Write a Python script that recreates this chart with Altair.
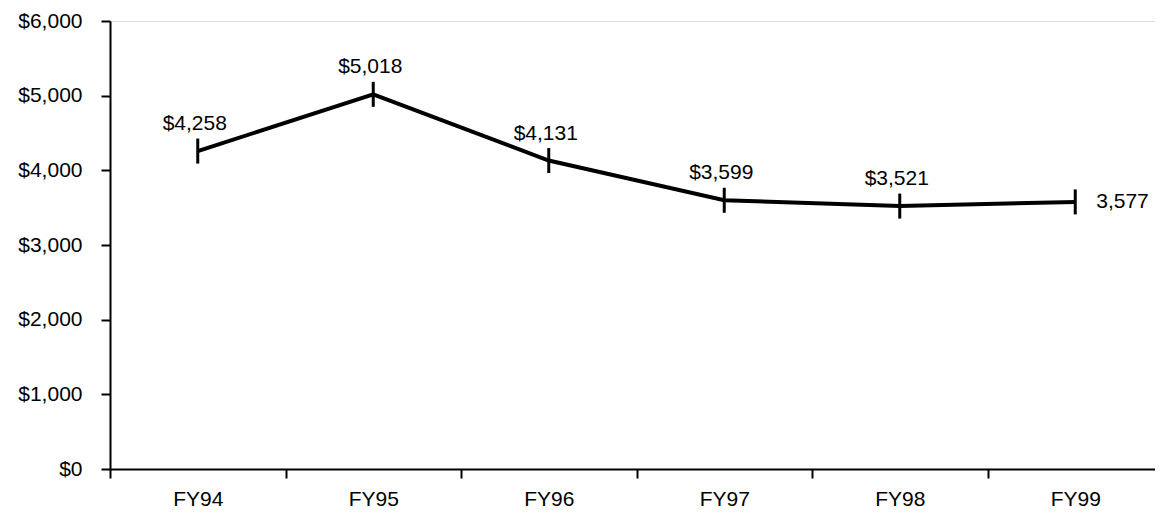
import altair as alt
import pandas as pd

years = ["FY94", "FY95", "FY96", "FY97", "FY98", "FY99"]
values = [4258, 5018, 4131, 3599, 3521, 3577]
labels = ["$4,258", "$5,018", "$4,131", "$3,599", "$3,521", "3,577"]
label_side = ["top", "top", "top", "top", "top", "right"]
y_ticks = [0, 1000, 2000, 3000, 4000, 5000, 6000]

df = pd.DataFrame({"year": years, "value": values, "label": labels, "side": label_side})

FONT = "Liberation Sans"
FS = 21

x = alt.X("year:N", sort=years, title=None,
          scale=alt.Scale(type="band", paddingInner=0, paddingOuter=0, range=[0, 1053]),
          axis=alt.Axis(tickBand="extent", labelAngle=0, labelFontSize=FS, labelFont=FONT,
                        labelColor="black", labelPadding=10, tickSize=9, tickWidth=2,
                        tickColor="black", domainColor="black", domainWidth=2, grid=False))
y = alt.Y("value:Q", title=None,
          scale=alt.Scale(domain=[0, 6000], nice=False),
          axis=alt.Axis(values=y_ticks, format="$,.0f", labelFontSize=FS, labelFont=FONT,
                        labelColor="black", labelPadding=19, tickSize=9, tickWidth=2,
                        tickColor="black", domainColor="black", domainWidth=2, grid=False))

base = alt.Chart(df)

line = base.mark_line(color="black", strokeWidth=4).encode(x=x, y=y)
ticks = base.mark_tick(orient="vertical", color="black", size=25, thickness=3, opacity=1).encode(x=x, y=y)
top_labels = base.transform_filter(alt.datum.side == "top").mark_text(
    font=FONT, fontSize=FS, color="black", dy=-21, dx=-3, baseline="alphabetic"
).encode(x=x, y=y, text="label:N")
right_labels = base.transform_filter(alt.datum.side == "right").mark_text(
    font=FONT, fontSize=FS, color="black", dx=21, align="left", baseline="middle"
).encode(x=x, y=y, text="label:N")

chart = alt.layer(line, ticks, top_labels, right_labels).properties(
    width=1045, height=448,
    autosize=alt.AutoSizeParams(type="none"),
    padding={"left": 102, "top": 13, "right": 0, "bottom": 40},
).configure_view(stroke=None).configure(background="white")

chart.save("out.html", embed_options={"renderer": "svg", "actions": False})
